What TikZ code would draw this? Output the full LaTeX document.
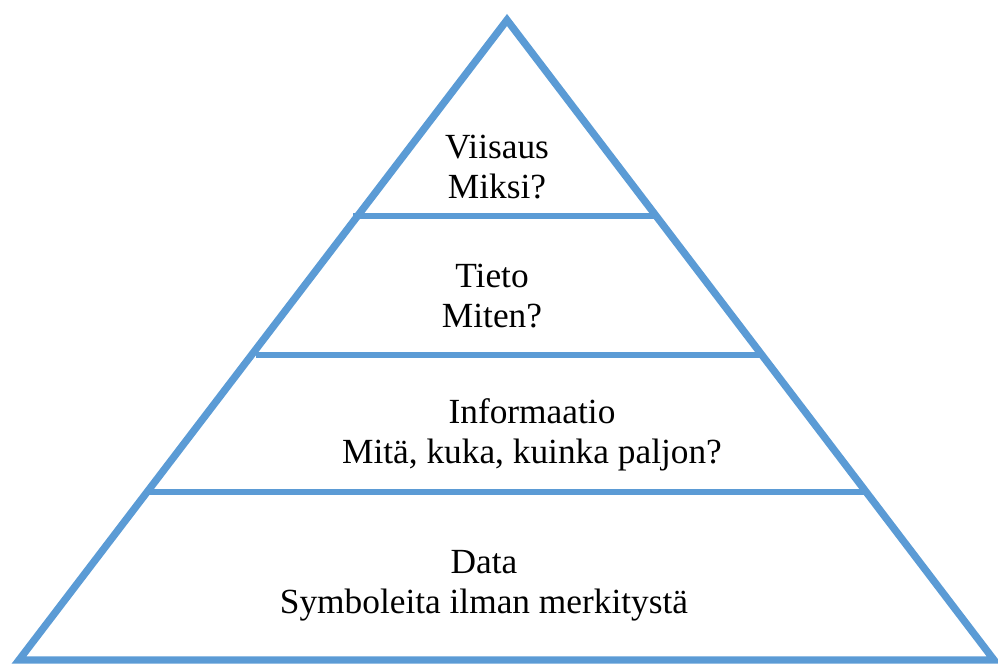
\documentclass[tikz,border=0pt]{standalone}
\usepackage{fontspec}
\setmainfont{Liberation Serif}
\definecolor{pyrblue}{HTML}{5B9BD5}
\begin{document}
\begin{tikzpicture}[x=0.75pt,y=-0.75pt,
  edge/.style={draw=pyrblue,line width=5.5pt,line join=miter},
  tier/.style={draw=pyrblue,line width=4.2pt},
  lbl/.style={align=center,font=\fontsize{26.5}{30}\selectfont,inner sep=0pt}]
\useasboundingbox (0,0) rectangle (998,664);
\coordinate (apex) at (507,20);
\coordinate (bl) at (19,660);
\coordinate (br) at (994,660);
\draw[edge] (bl) -- (apex) -- (br) -- cycle;
\coordinate (l1) at (353,216); \coordinate (r1) at (658,216);
\coordinate (l2) at (256,355); \coordinate (r2) at (764,355);
\coordinate (l3) at (146,492); \coordinate (r3) at (868,492);
\draw[tier] (l1) -- (r1);
\draw[tier] (l2) -- (r2);
\draw[tier] (l3) -- (r3);
\node[lbl] (t1) at (497,167) {Viisaus\\Miksi?};
\node[lbl] (t2) at (492,296) {Tieto\\Miten?};
\node[lbl] (t3) at (532,435) {Informaatio\\Mitä, kuka, kuinka paljon?};
\node[lbl] (t4) at (484,586) {Data\\Symboleita ilman merkitystä};
\end{tikzpicture}
\end{document}
